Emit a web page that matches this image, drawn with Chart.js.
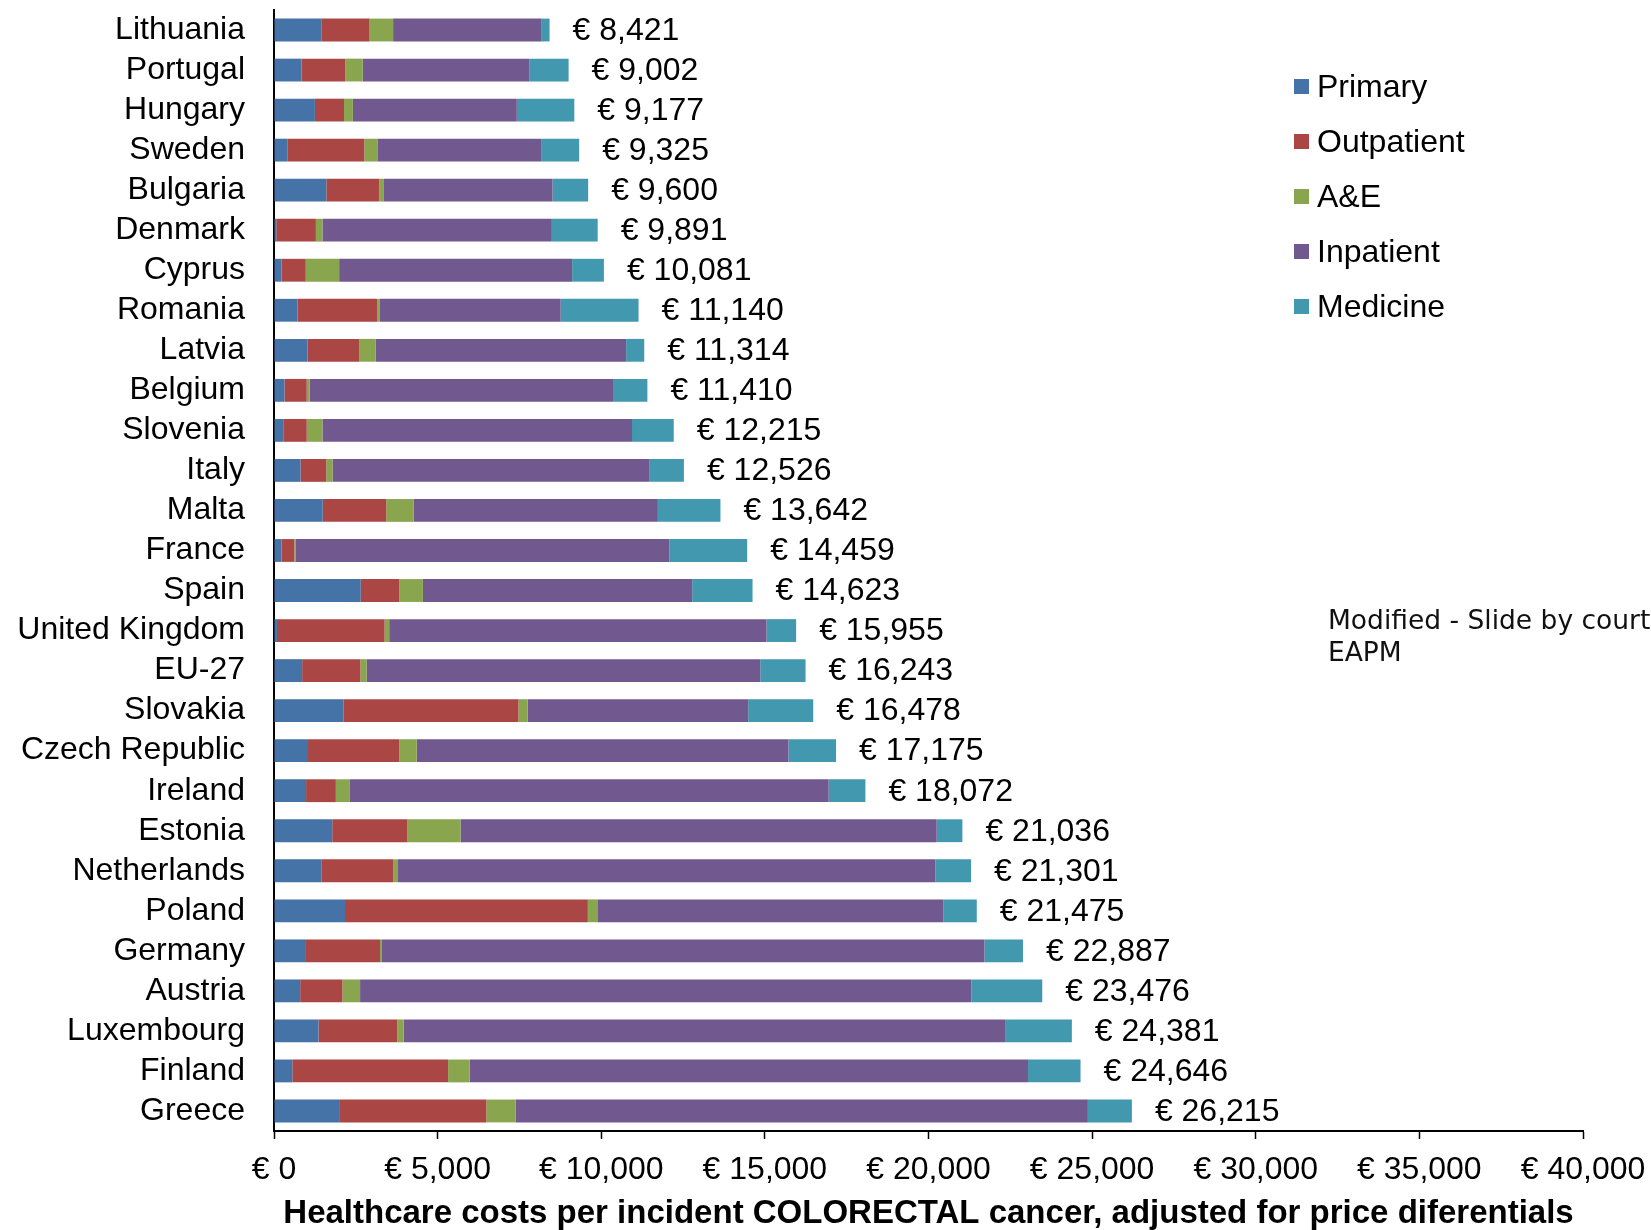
<!DOCTYPE html>
<html>
<head>
<meta charset="utf-8">
<script src="https://cdn.jsdelivr.net/npm/chart.js@4.4.1/dist/chart.umd.min.js"></script>
<style>
  html, body { margin: 0; padding: 0; background: #fff; overflow: hidden; }
  #wrap { position: relative; width: 1651px; height: 1230px; overflow: hidden; }
  #legend { position: absolute; left: 1294px; top: 62px; font-family: "Liberation Sans", Arial, sans-serif; font-size: 32px; color: #000; }
  .li { position: relative; height: 55px; white-space: nowrap; }
  .sw { position: absolute; left: 0; top: 17px; width: 15px; height: 15px; }
  .lt { position: absolute; left: 23px; top: 4px; line-height: 40px; }
  #note { position: absolute; left: 1328px; top: 604px; font-family: "DejaVu Sans", Verdana, sans-serif; font-size: 26.5px; line-height: 32px; color: #111; white-space: nowrap; }
</style>
</head>
<body>
<div id="wrap">
  <canvas id="c" width="1651" height="1230"></canvas>
  <div id="legend"></div>
  <div id="note">Modified - Slide by courtesy of<br>EAPM</div>
</div>
<script>
const categories = ["Lithuania","Portugal","Hungary","Sweden","Bulgaria","Denmark","Cyprus","Romania","Latvia","Belgium","Slovenia","Italy","Malta","France","Spain","United Kingdom","EU-27","Slovakia","Czech Republic","Ireland","Estonia","Netherlands","Poland","Germany","Austria","Luxembourg","Finland","Greece"];
const seriesNames = ["Primary","Outpatient","A&E","Inpatient","Medicine"];
const seriesColors = ["#4572A7","#AA4643","#89A54E","#71588F","#4198AF"];
const primary    = [1460, 840,1250, 420,1600,  70, 230, 720,1020, 320, 300, 810,1490, 230,2650,  90, 860,2130,1040, 980,1780,1460,2170, 950, 800,1360, 560,1990];
const outpatient = [1460,1340, 890,2340,1620,1210, 740,2430,1580, 680, 700, 790,1940, 390,1180,3290,1780,5340,2790, 910,2300,2190,7420,2290,1290,2410,4760,4500];
const ae         = [ 720, 530, 270, 400, 140, 200,1020,  70, 510,  90, 480, 190, 840,  50, 720, 140, 190, 280, 530, 430,1620, 140, 290,  40, 540, 190, 660, 890];
const inpatient  = [4540,5100,5010,5020,5150,7010,7120,5540,7650,9270,9460,9690,7460,11410,8230,11530,12030,6740,11360,14630,14550,16420,10570,18430,18680,18380,17060,17490];
const medicine   = [ 241,1192,1757,1145,1090,1401, 971,2380, 554,1050,1275,1046,1912,2379,1843, 905,1383,1988,1455,1122, 786,1091,1025,1177,2166,2041,1606,1345];
const totals     = [8421,9002,9177,9325,9600,9891,10081,11140,11314,11410,12215,12526,13642,14459,14623,15955,16243,16478,17175,18072,21036,21301,21475,22887,23476,24381,24646,26215];
const xMin = 0, xMax = 40000, xStep = 5000;
const xTitle = "Healthcare costs per incident COLORECTAL cancer, adjusted for price diferentials";

const FONT = '"Liberation Sans", Arial, sans-serif';
const euro = v => '\u20AC ' + Number(v).toLocaleString('en-US');

const seriesData = [primary, outpatient, ae, inpatient, medicine];
const datasets = seriesNames.map((n, i) => ({
  label: n,
  data: seriesData[i],
  backgroundColor: seriesColors[i],
  borderWidth: 0,
  barPercentage: 0.57,
  categoryPercentage: 1.0
}));

const totalsPlugin = {
  id: 'totals',
  afterDatasetsDraw(chart) {
    const ctx = chart.ctx, xs = chart.scales.x, ys = chart.scales.y;
    ctx.save();
    ctx.font = '32px ' + FONT;
    ctx.fillStyle = '#000';
    ctx.textAlign = 'left';
    ctx.textBaseline = 'middle';
    totals.forEach((t, i) => {
      ctx.fillText(euro(t), xs.getPixelForValue(t) + 23, ys.getPixelForValue(i) + 1);
    });
    ctx.restore();
  }
};

new Chart(document.getElementById('c'), {
  type: 'bar',
  data: { labels: categories, datasets },
  plugins: [totalsPlugin],
  options: {
    indexAxis: 'y',
    responsive: false,
    animation: false,
    layout: { padding: { top: 10, right: 68, left: 0, bottom: 0 } },
    plugins: { legend: { display: false }, tooltip: { enabled: false } },
    scales: {
      x: {
        stacked: true,
        min: xMin, max: xMax,
        afterFit(s) { s.height = 99; s.paddingRight = 0; s.paddingLeft = 0; },
        ticks: { stepSize: xStep, callback: v => euro(v), color: '#000', font: { family: FONT, size: 32 }, padding: 12, maxRotation: 0, autoSkip: false },
        grid: { drawOnChartArea: false, drawTicks: true, tickLength: 8, tickColor: '#000', tickWidth: 1.5 },
        border: { display: true, color: '#000', width: 2 },
        title: { display: true, text: xTitle, color: '#000', font: { family: FONT, size: 33, weight: 'bold', lineHeight: 1 }, padding: { top: 0, bottom: 0 } }
      },
      y: {
        stacked: true,
        afterFit(s) { s.width = 274; },
        ticks: { color: '#000', font: { family: FONT, size: 32, lineHeight: 0.4 }, padding: 0, autoSkip: false },
        grid: { display: false, drawTicks: true, tickLength: 29 },
        border: { display: true, color: '#000', width: 2 }
      }
    }
  }
});

const lg = document.getElementById('legend');
seriesNames.forEach((n, i) => {
  const d = document.createElement('div');
  d.className = 'li';
  d.innerHTML = '<span class="sw" style="background:' + seriesColors[i] + '"></span><span class="lt"></span>';
  d.querySelector('.lt').textContent = n;
  lg.appendChild(d);
});
</script>
</body>
</html>
